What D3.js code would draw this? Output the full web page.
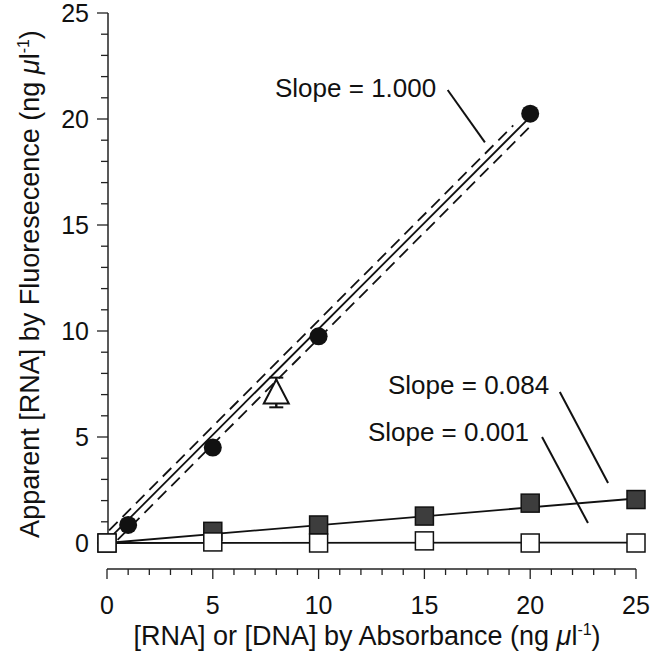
<!DOCTYPE html>
<html><head><meta charset="utf-8">
<script src="https://cdn.jsdelivr.net/npm/d3@7"></script>
<style>body{margin:0;background:#fff}text{font-family:"Liberation Sans",Arial,Helvetica,sans-serif;fill:#111}</style>
</head><body><svg id="c" width="650" height="660"></svg>
<script>
// Data
const rnaX = [1, 5, 10, 20];
const rnaY = [0.85, 4.5, 9.75, 20.25];
const dnaX = [0, 5, 10, 15, 20, 25];
const dnaY = [0, 0.55, 0.85, 1.27, 1.88, 2.05];
const ctrlX = [0, 5, 10, 15, 20, 25];
const ctrlY = [0, 0.05, 0, 0.1, 0, 0];
const triX = [8];
const triY = [7.1];
const triLo = [6.4];
const triHi = [7.8];
const fitRNA = [[0, 0.1], [20, 20.1]];
const bandUpper = [[0.1, 0.6], [19.2, 19.7]];
const bandLower = [[0.5, 0.15], [20.0, 19.65]];
const fitDNA = [[0, 0], [25, 2.1]];
const fitCtrl = [[0, 0], [25, 0.02]];
const xTicks = [0, 5, 10, 15, 20, 25];
const yTicks = [0, 5, 10, 15, 20, 25];
const annoText = ["Slope = 1.000", "Slope = 0.084", "Slope = 0.001"];
const annoPos = [[7.94, 21.5], [13.28, 7.45], [12.33, 5.24]];
const annoLeader = [[[16.1, 21.37], [17.86, 18.9]], [[21.4, 7.12], [23.68, 2.83]], [[20.56, 5.0], [22.73, 0.94]]];

const svg = d3.select("#c");
const x = d3.scaleLinear().domain([0, 25]).range([107, 636]);
const y = d3.scaleLinear().domain([0, 25]).range([543, 13]);
const line = d3.line().x(d => x(d[0])).y(d => y(d[1]));

// Y axis
const yAx = svg.append("g").attr("transform", "translate(108,0)");
yAx.append("line").attr("y1", y(25)).attr("y2", y(0)).attr("stroke", "#222").attr("stroke-width", 1.5);
yAx.selectAll("line.mi").data(d3.range(0, 26)).join("line").attr("class","mi")
  .attr("x1", d => yTicks.includes(d) ? -11 : -7).attr("x2", 0)
  .attr("y1", d => y(d)).attr("y2", d => y(d)).attr("stroke", "#222").attr("stroke-width", 1.3);
yAx.selectAll("text").data(yTicks).join("text")
  .attr("x", -19).attr("y", d => y(d)).attr("dy", "0.36em").attr("text-anchor", "end")
  .attr("font-size", 25).text(d => d);

// X axis
const xAx = svg.append("g").attr("transform", "translate(0,569)");
xAx.append("line").attr("x1", x(0)).attr("x2", x(25)).attr("stroke", "#222").attr("stroke-width", 1.5);
xAx.selectAll("line.mi").data(d3.range(0, 26)).join("line").attr("class","mi")
  .attr("y1", 0).attr("y2", d => xTicks.includes(d) ? 10 : 6)
  .attr("x1", d => x(d)).attr("x2", d => x(d)).attr("stroke", "#222").attr("stroke-width", 1.3);
xAx.selectAll("text").data(xTicks).join("text")
  .attr("x", d => x(d)).attr("y", 36).attr("dy", "0.36em").attr("text-anchor", "middle")
  .attr("font-size", 25).text(d => d);

// Axis titles
function unitTitle(sel, main) {
  sel.append("tspan").text(main + " (ng ");
  sel.append("tspan").attr("font-style", "italic").text("\u03bc");
  sel.append("tspan").text("l");
  sel.append("tspan").attr("font-size", 16).attr("dy", -10).text("-1");
  sel.append("tspan").attr("dy", 10).text(")");
}
const xt = svg.append("text").attr("x", 367).attr("y", 645).attr("text-anchor", "middle").attr("font-size", 27);
unitTitle(xt, "[RNA] or [DNA] by Absorbance");
const yt = svg.append("text").attr("transform", "translate(39,284) rotate(-90)").attr("text-anchor", "middle").attr("font-size", 27);
unitTitle(yt, "Apparent [RNA] by Fluoresecence");

// Lines
svg.append("path").attr("d", line(fitRNA)).attr("stroke", "#111").attr("stroke-width", 1.8).attr("fill", "none");
[bandUpper, bandLower].forEach(b => svg.append("path").attr("d", line(b)).attr("stroke", "#111")
  .attr("stroke-width", 1.8).attr("stroke-dasharray", "12,7").attr("fill", "none"));
svg.append("path").attr("d", line(fitDNA)).attr("stroke", "#111").attr("stroke-width", 1.8).attr("fill", "none");
svg.append("path").attr("d", line(fitCtrl)).attr("stroke", "#111").attr("stroke-width", 1.8).attr("fill", "none");

// Annotations
annoText.forEach((t, i) => {
  svg.append("text").attr("x", x(annoPos[i][0])).attr("y", y(annoPos[i][1])).attr("dy", "0.36em")
    .attr("font-size", 26).text(t);
  svg.append("path").attr("d", line(annoLeader[i])).attr("stroke", "#111").attr("stroke-width", 2).attr("fill", "none");
});

// Triangle with error bar
triX.forEach((v, i) => {
  const cx = x(v), cy = y(triY[i]);
  const g = svg.append("g");
  g.append("line").attr("x1", cx).attr("x2", cx).attr("y1", y(triHi[i])).attr("y2", y(triLo[i])).attr("stroke", "#111").attr("stroke-width", 2);
  [triHi[i], triLo[i]].forEach(e => g.append("line").attr("x1", cx - 7).attr("x2", cx + 7).attr("y1", y(e)).attr("y2", y(e)).attr("stroke", "#111").attr("stroke-width", 2));
  g.append("path").attr("d", `M${cx},${cy - 13}L${cx + 12.5},${cy + 11}L${cx - 12.5},${cy + 11}Z`)
    .attr("fill", "#fff").attr("stroke", "#111").attr("stroke-width", 2);
  g.append("line").attr("x1", cx).attr("x2", cx).attr("y1", cy + 11).attr("y2", y(triLo[i])).attr("stroke", "#111").attr("stroke-width", 2);
});

// Markers
svg.selectAll("rect.dna").data(dnaX).join("rect").attr("class","dna")
  .attr("x", d => x(d) - 9).attr("y", (d, i) => y(dnaY[i]) - 9).attr("width", 18).attr("height", 18)
  .attr("fill", "#3d3d3d").attr("stroke", "#111").attr("stroke-width", 1.5);
svg.selectAll("rect.ctrl").data(ctrlX).join("rect").attr("class","ctrl")
  .attr("x", d => x(d) - 9).attr("y", (d, i) => y(ctrlY[i]) - 9).attr("width", 18).attr("height", 18)
  .attr("fill", "#fff").attr("stroke", "#111").attr("stroke-width", 1.5);
svg.selectAll("circle.rna").data(rnaX).join("circle").attr("class","rna")
  .attr("cx", d => x(d)).attr("cy", (d, i) => y(rnaY[i])).attr("r", 9).attr("fill", "#111");
</script></body></html>
